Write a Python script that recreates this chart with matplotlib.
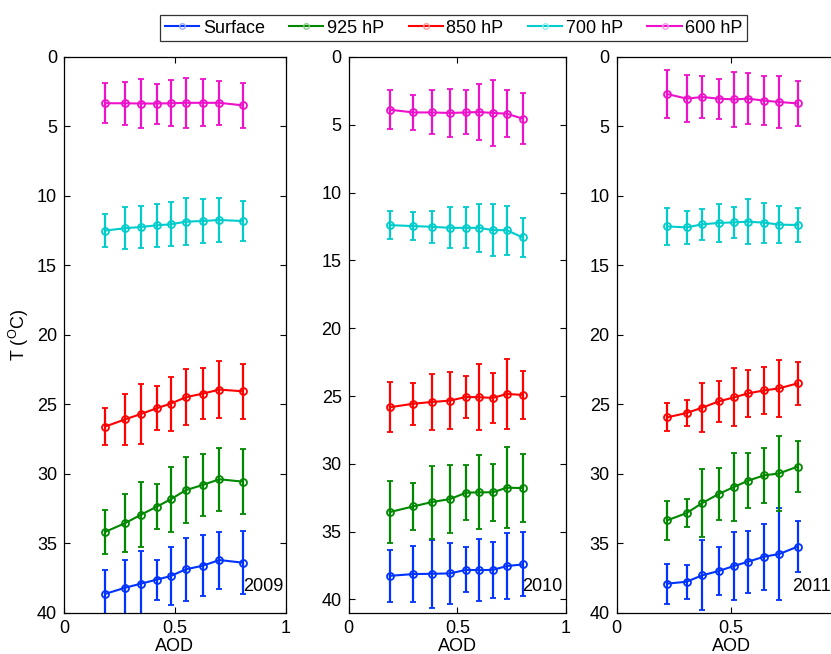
import matplotlib
matplotlib.use("Agg")
import matplotlib.pyplot as plt
from matplotlib.lines import Line2D

plt.rcParams['font.family'] = ['Liberation Sans', 'DejaVu Sans']

years = ["2009", "2010", "2011"]
levels = ["Surface", "925 hP", "850 hP", "700 hP", "600 hP"]
colors = ["#0033ff", "#008800", "#ff0000", "#00cccc", "#ee11cc"]
legend_marker_colors = ["#99aaff", "#88cc88", "#ff9999", "#99eeee", "#f799e6"]

# AOD bin centres per year
aod_2009 = [0.185, 0.276, 0.347, 0.418, 0.481, 0.548, 0.625, 0.700, 0.805]
aod_2010 = [0.189, 0.297, 0.383, 0.466, 0.540, 0.601, 0.664, 0.727, 0.801]
aod_2011 = [0.220, 0.306, 0.374, 0.446, 0.512, 0.575, 0.644, 0.710, 0.791]

# mean temperature (deg C) per level: Surface, 925, 850, 700, 600
t_2009 = [
    [38.63, 38.18, 37.89, 37.60, 37.34, 36.86, 36.60, 36.19, 36.38],
    [34.17, 33.53, 32.93, 32.35, 31.82, 31.17, 30.79, 30.38, 30.55],
    [26.59, 26.07, 25.68, 25.27, 24.94, 24.48, 24.22, 23.93, 24.05],
    [12.49, 12.32, 12.23, 12.11, 12.04, 11.85, 11.80, 11.73, 11.80],
    [3.33, 3.33, 3.35, 3.35, 3.33, 3.30, 3.30, 3.30, 3.48],
]
t_2010 = [
    [38.26, 38.13, 38.11, 38.08, 37.82, 37.84, 37.82, 37.54, 37.42],
    [33.56, 33.14, 32.82, 32.60, 32.13, 32.10, 32.10, 31.76, 31.79],
    [25.83, 25.57, 25.44, 25.34, 25.07, 25.09, 25.14, 24.85, 24.92],
    [12.40, 12.47, 12.52, 12.60, 12.60, 12.60, 12.77, 12.77, 13.31],
    [3.89, 4.09, 4.09, 4.13, 4.09, 4.06, 4.13, 4.18, 4.55],
]
t_2011 = [
    [37.89, 37.75, 37.29, 36.98, 36.62, 36.31, 35.95, 35.76, 35.23],
    [33.34, 32.81, 32.09, 31.44, 30.94, 30.48, 30.10, 29.96, 29.47],
    [25.93, 25.61, 25.23, 24.78, 24.49, 24.20, 23.99, 23.84, 23.48],
    [12.19, 12.26, 12.04, 11.94, 11.90, 11.85, 11.92, 12.06, 12.09],
    [2.66, 3.00, 2.88, 3.00, 3.05, 3.00, 3.14, 3.24, 3.34],
]

# standard deviations
sd_2009 = [
    [1.70, 1.97, 2.35, 1.44, 2.07, 2.28, 2.18, 2.05, 2.25],
    [1.56, 2.09, 2.33, 1.64, 2.35, 2.37, 2.25, 2.28, 2.33],
    [1.32, 1.83, 2.16, 1.58, 1.95, 2.01, 1.85, 2.06, 1.97],
    [1.18, 1.50, 1.53, 1.56, 1.59, 1.67, 1.55, 1.58, 1.43],
    [1.44, 1.56, 1.73, 1.44, 1.64, 1.80, 1.70, 1.58, 1.63],
]
sd_2010 = [
    [1.94, 2.09, 2.52, 2.26, 1.65, 2.26, 2.07, 2.41, 2.36],
    [2.28, 1.75, 2.69, 2.53, 2.03, 2.72, 2.10, 2.98, 2.48],
    [1.85, 1.55, 2.05, 2.09, 1.57, 2.42, 1.83, 2.56, 1.78],
    [1.01, 1.01, 1.17, 1.50, 1.50, 1.75, 1.94, 1.80, 1.45],
    [1.45, 1.32, 1.62, 1.80, 1.62, 2.07, 2.41, 1.72, 1.87],
]
sd_2011 = [
    [1.43, 1.23, 2.52, 1.71, 2.43, 2.23, 2.36, 3.31, 1.82],
    [1.39, 1.02, 2.47, 1.86, 2.47, 1.99, 1.99, 2.67, 1.85],
    [1.01, 0.92, 1.74, 1.45, 2.09, 1.68, 1.69, 2.04, 1.57],
    [1.35, 1.21, 1.13, 1.34, 1.10, 1.61, 1.43, 1.32, 1.20],
    [1.73, 1.68, 1.50, 1.45, 1.97, 1.83, 1.75, 1.86, 1.63],
]

aods = [aod_2009, aod_2010, aod_2011]
temps = [t_2009, t_2010, t_2011]
sds = [sd_2009, sd_2010, sd_2011]

fig = plt.figure(figsize=(8.31, 6.54), dpi=100)

boxes = [[0.0770, 0.0627, 0.2671, 0.8502],
         [0.4196, 0.0627, 0.2615, 0.8502],
         [0.7421, 0.0627, 0.2752, 0.8502]]
ymaxes = [40, 41, 40]
year_x = [0.805, 0.80, 0.765]
# last panel runs off the right edge, so its "1" is never shown
xlabels = [["0", "0.5", "1"], ["0", "0.5", "1"], ["0", "0.5", ""]]

for k in range(3):
    ax = fig.add_axes(boxes[k])
    for j in range(5):
        ax.errorbar(aods[k], temps[k][j], yerr=sds[k][j], color=colors[j],
                    lw=1.5, elinewidth=1.6, capsize=2.2, capthick=1.5,
                    marker='o', ms=5, mfc='none', mew=1.3)
    ax.set_xlim(0, 1)
    ax.set_ylim(ymaxes[k], 0)
    ax.set_xticks([0, 0.5, 1])
    ax.set_xticklabels(xlabels[k])
    ax.set_yticks(range(0, 41, 5))
    ax.tick_params(direction='in', length=4, width=0.8, labelsize=13,
                   top=True, right=True, pad=5)
    for s in ax.spines.values():
        s.set_linewidth(0.9)
    ax.set_xlabel("AOD", fontsize=13, labelpad=1)
    ax.text(year_x[k], 0.047, years[k], transform=ax.transAxes,
            ha='left', va='center', fontsize=13)
    if k == 0:
        ax.set_ylabel(r"T ($^\mathregular{O}$C)", fontsize=13, labelpad=4)

handles = [Line2D([], [], color=colors[j], lw=1.5, marker='o', ms=4,
                  mfc='none', mec=legend_marker_colors[j], mew=1.0)
           for j in range(5)]
leg = fig.legend(handles, levels, loc='center', bbox_to_anchor=(0.546, 0.957),
                 ncol=5, fontsize=13, frameon=True, fancybox=False,
                 edgecolor='black', handlelength=1.9, handletextpad=0.2,
                 columnspacing=1.35, borderpad=0.25, borderaxespad=0)
leg.get_frame().set_linewidth(0.9)

fig.savefig("out.png", dpi=100)
